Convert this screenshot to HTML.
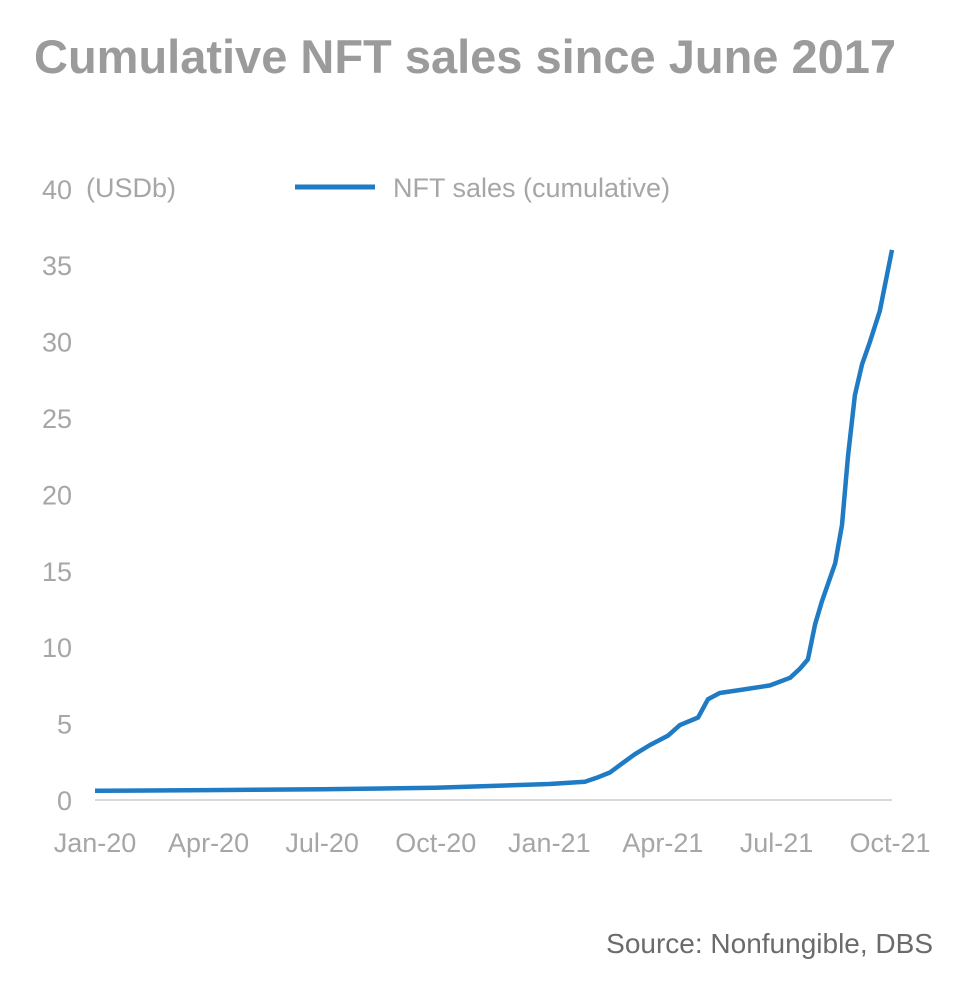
<!DOCTYPE html>
<html><head><meta charset="utf-8"><style>
body{margin:0;background:#fff;width:968px;height:984px;overflow:hidden;font-family:"Liberation Sans",sans-serif}
</style></head><body>
<svg width="968" height="984">
<text x="34" y="73" font-size="47" font-weight="bold" fill="#9b9b9b">Cumulative NFT sales since June 2017</text>
<text x="86" y="197" font-size="27" fill="#a6a6a6">(USDb)</text>
<line x1="295" y1="187" x2="375" y2="187" stroke="#1f7bc4" stroke-width="5"/>
<text x="393" y="197" font-size="27" fill="#a6a6a6">NFT sales (cumulative)</text>
<g id="yt"></g><g id="xt"></g>
<line x1="95" y1="800" x2="892" y2="800" stroke="#d9d9d9" stroke-width="2"/>
<path id="ln" fill="none" stroke="#1f7bc4" stroke-width="4.5" stroke-linejoin="round"/>
<text x="933" y="953" font-size="28" fill="#6b6b6b" text-anchor="end">Source: Nonfungible, DBS</text>
</svg>
<script>
const yTicks=[0,5,10,15,20,25,30,35,40];
const xLabels=["Jan-20","Apr-20","Jul-20","Oct-20","Jan-21","Apr-21","Jul-21","Oct-21"];
const months=[0,3,6,9,12,12.94,13.3,13.6,13.87,14.26,14.66,15.13,15.45,15.93,16.19,16.5,17.04,17.83,18.36,18.62,18.83,19.02,19.2,19.55,19.73,19.89,20.07,20.26,20.47,20.73,21.05];
const sales=[0.6,0.65,0.7,0.8,1.05,1.2,1.5,1.8,2.3,3.0,3.6,4.2,4.9,5.4,6.6,7.0,7.2,7.5,8.0,8.6,9.2,11.5,13,15.5,18,22.5,26.5,28.5,30,32,36];
const xs=m=>95+m*37.86, ys=v=>800-v*15.28;
const NS="http://www.w3.org/2000/svg";
const yt=document.getElementById('yt'),xt=document.getElementById('xt');
yTicks.forEach(v=>{const t=document.createElementNS(NS,'text');


t.setAttribute('x',72);t.setAttribute('y',ys(v)+10);t.setAttribute('text-anchor','end');t.setAttribute('font-size','27');t.setAttribute('fill','#a6a6a6');t.textContent=v;yt.appendChild(t);});
xLabels.forEach((l,i)=>{const t=document.createElementNS(NS,'text');


t.setAttribute('x',xs(i*3));t.setAttribute('y',852);t.setAttribute('text-anchor','middle');t.setAttribute('font-size','27');t.setAttribute('fill','#a6a6a6');t.textContent=l;xt.appendChild(t);});
document.getElementById('ln').setAttribute('d',months.map((m,i)=>(i?'L':'M')+xs(m).toFixed(1)+' '+ys(sales[i]).toFixed(1)).join(' '));
</script>
</body></html>
